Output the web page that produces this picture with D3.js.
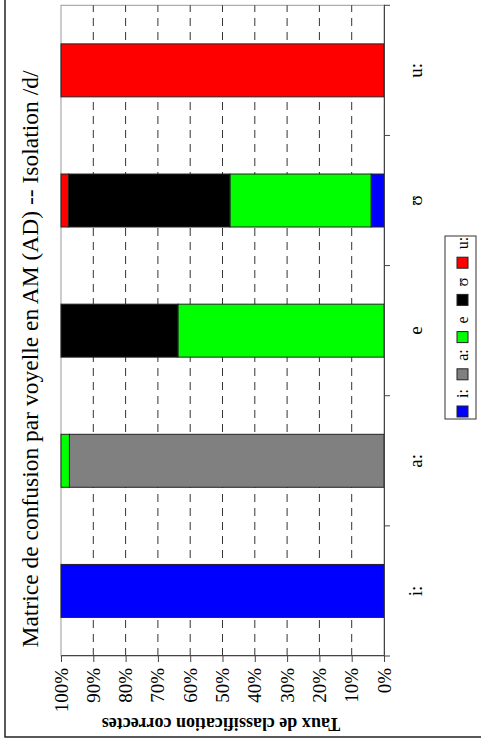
<!DOCTYPE html>
<html>
<head>
<meta charset="utf-8">
<script src="https://cdn.jsdelivr.net/npm/d3@7"></script>
<style>
  html, body { margin: 0; padding: 0; background: #fff; }
  svg { display: block; }
  text { font-family: "Liberation Serif", "Times New Roman", "DejaVu Serif", serif; }
</style>
</head>
<body>
<svg id="chart" width="481" height="744"></svg>
<script>
// ---- data ----
const categories = ["i:", "a:", "e", "ʊ", "u:"];
const seriesNames = ["i:", "a:", "e", "ʊ", "u:"];
const seriesColors = ["#0000ff", "#808080", "#00ff00", "#000000", "#ff0000"];
const valuesI  = [100, 0,    0,    4.0,  0];
const valuesA  = [0,   97.4, 0,    0,    0];
const valuesE  = [0,   2.6,  63.8, 43.7, 0];
const valuesU  = [0,   0,    36.2, 50.0, 0];
const valuesUU = [0,   0,    0,    2.3,  100];
const tickValues = [0, 10, 20, 30, 40, 50, 60, 70, 80, 90, 100];
const tickLabels = ["0%", "10%", "20%", "30%", "40%", "50%", "60%", "70%", "80%", "90%", "100%"];
const titleText = "Matrice de confusion par voyelle en AM (AD) -- Isolation /d/";
const yLabelText = "Taux de classification correctes";

const seriesValues = [valuesI, valuesA, valuesE, valuesU, valuesUU];
const table = categories.map((c, i) => {
  const row = { cat: c };
  seriesNames.forEach((s, j) => { row[s] = seriesValues[j][i]; });
  return row;
});

// ---- drawing (chart drawn unrotated in 744x481, then rotated -90deg) ----
const svg = d3.select("#chart");
svg.append("rect").attr("width", 481).attr("height", 744).attr("fill", "#fff");
const root = svg.append("g").attr("transform", "translate(0,744) rotate(-90)");

// outer frame
root.append("rect").attr("x", 7).attr("y", 5).attr("width", 760).attr("height", 500)
  .attr("fill", "none").attr("stroke", "#222").attr("stroke-width", 1.5);

const x = d3.scaleBand().domain(categories).range([88, 738.7]).padding(0);
const y = d3.scaleLinear().domain([0, 100]).range([384, 61]);

// plot border
root.append("rect").attr("x", 88).attr("y", 61).attr("width", 738.7 - 88).attr("height", 384 - 61)
  .attr("fill", "none").attr("stroke", "#999").attr("stroke-width", 1);

// grid
root.append("g").selectAll("line").data(tickValues.filter(t => t > 0 && t < 100)).join("line")
  .attr("x1", 88).attr("x2", 738.7)
  .attr("y1", d => y(d)).attr("y2", d => y(d))
  .attr("stroke", "#333").attr("stroke-width", 1).attr("stroke-dasharray", "8,6");

// stacked bars
const stack = d3.stack().keys(seriesNames);
const stacked = stack(table);
const barW = x.bandwidth() * 0.407;
const gBars = root.append("g");
stacked.forEach((layer, k) => {
  gBars.selectAll(null).data(layer.filter(d => d[1] - d[0] > 0)).join("rect")
    .attr("x", d => x(d.data.cat) + (x.bandwidth() - barW) / 2)
    .attr("width", barW)
    .attr("y", d => y(d[1]))
    .attr("height", d => y(d[0]) - y(d[1]))
    .attr("fill", seriesColors[k])
    .attr("stroke", "#222").attr("stroke-width", 1);
});

// value axis
const yAxis = root.append("g").attr("transform", "translate(88,0)")
  .call(d3.axisLeft(y).tickValues(tickValues).tickFormat((d, i) => tickLabels[i]).tickSize(6).tickPadding(6));
yAxis.selectAll("text").style("font-size", "19px").attr("fill", "#000");
yAxis.selectAll("line").attr("stroke", "#444");
yAxis.select(".domain").attr("stroke", "#444");

// category axis
const xAxis = root.append("g").attr("transform", "translate(0,384)")
  .call(d3.axisBottom(x).tickSize(0).tickPadding(25));
xAxis.selectAll("text").style("font-size", "19px").attr("fill", "#000");
xAxis.select(".domain").attr("stroke", "#444");
const bounds = d3.range(categories.length + 1).map(i => x.range()[0] + i * x.step());
xAxis.selectAll(".bound").data(bounds).join("line").attr("class", "bound")
  .attr("x1", d => d).attr("x2", d => d).attr("y1", 0).attr("y2", 6)
  .attr("stroke", "#444");

// title
root.append("text").attr("x", 385).attr("y", 38).attr("text-anchor", "middle")
  .style("font-size", "23.5px").text(titleText);

// y label
root.append("text").attr("transform", "translate(26,221) rotate(-90)")
  .attr("text-anchor", "middle").style("font-size", "18px").style("font-weight", "bold")
  .text(yLabelText);

// legend
const leg = root.append("g");
leg.append("rect").attr("x", 325).attr("y", 445).attr("width", 183).attr("height", 31)
  .attr("fill", "#fff").attr("stroke", "#333").attr("stroke-width", 1);
const items = leg.selectAll("g.item").data(seriesNames).join("g").attr("class", "item")
  .attr("transform", (d, i) => `translate(${327 + i * 37.2},0)`);
items.append("rect").attr("x", 0).attr("y", 457).attr("width", 11).attr("height", 11)
  .attr("fill", (d, i) => seriesColors[i]).attr("stroke", "#222");
items.append("text").attr("x", 19).attr("y", 468).style("font-size", "16px").text(d => d);
</script>
</body>
</html>
